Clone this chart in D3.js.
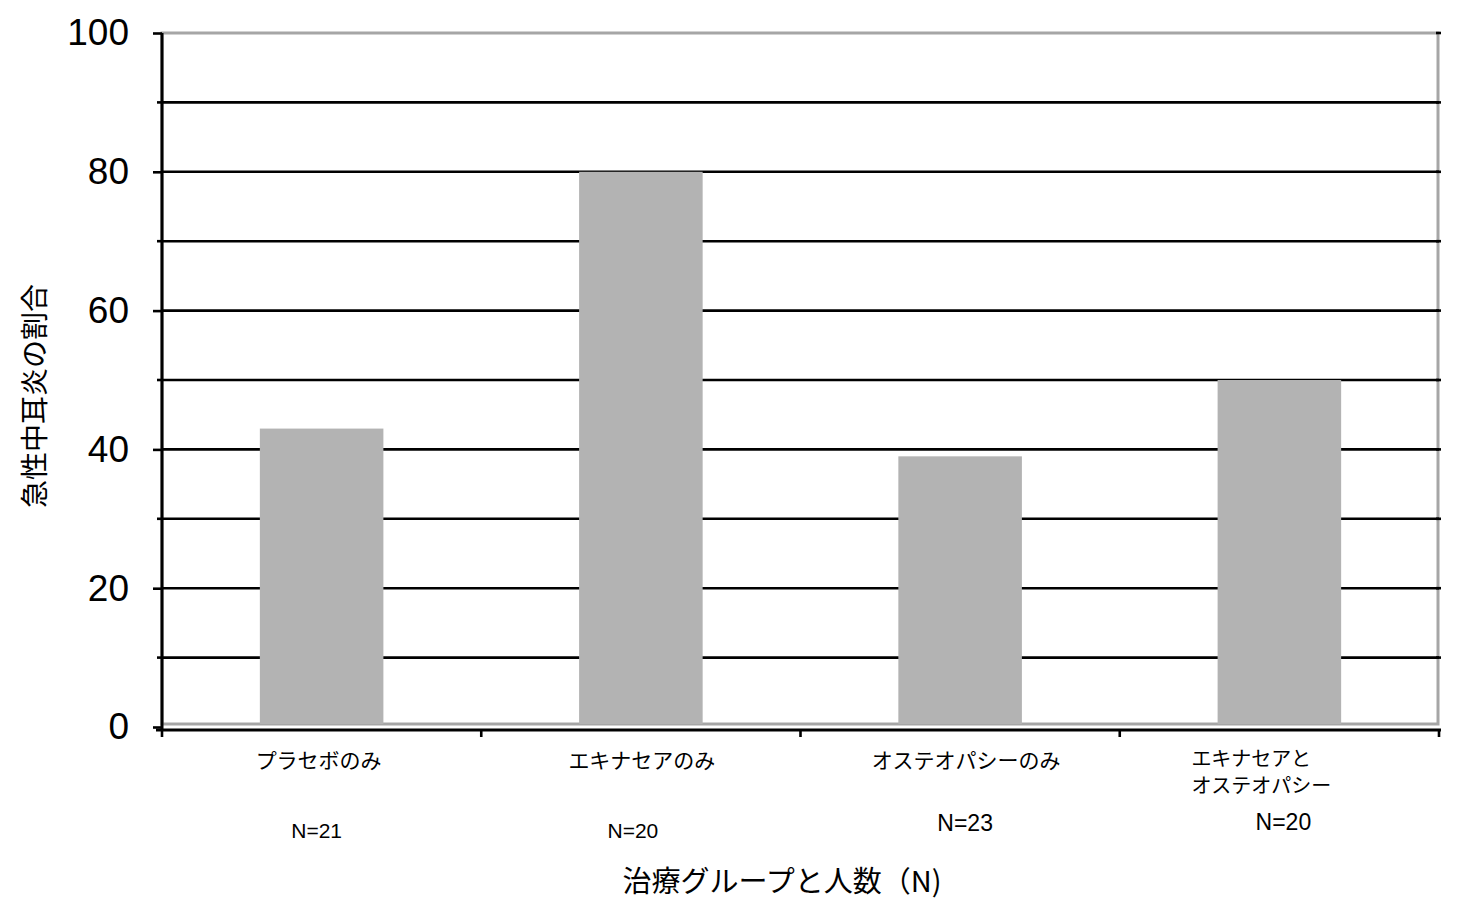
<!DOCTYPE html>
<html><head><meta charset="utf-8">
<script src="https://cdn.jsdelivr.net/npm/d3@7"></script>
<style>body{margin:0;background:#fff}svg{display:block}</style>
</head><body><svg id="c" width="1472" height="902"></svg>
<script>
const categories = ["プラセボのみ","エキナセアのみ","オステオパシーのみ","エキナセアと\nオステオパシー"];
const values = [43, 80, 39, 50];
const nLabels = ["N=21","N=20","N=23","N=20"];
const yTicks = [0,20,40,60,80,100];
const gridValues = [10,20,30,40,50,60,70,80,90];

const svg = d3.select("#c");
const L=162, R=1439, T=33, B=727;
const jp = "'Noto Sans CJK JP','Noto Sans',sans-serif";
const x = d3.scaleBand().domain(categories).range([L,R]).paddingInner(0.613).paddingOuter(0.3065);
const xOuter = d3.scaleBand().domain(categories).range([L,R]);
const y = d3.scaleLinear().domain([0,100]).range([B,T]);

// plot border (gray)
svg.append("rect").attr("x",L).attr("y",T).attr("width",R-L-1).attr("height",B-T-3)
  .attr("fill","none").attr("stroke","#a6a6a6").attr("stroke-width",3);

// gridlines
svg.append("g").selectAll("line").data(gridValues).join("line")
  .attr("x1",L).attr("x2",R).attr("y1",d=>y(d)).attr("y2",d=>y(d))
  .attr("stroke","#000").attr("stroke-width",2.6);
// right ticks
svg.append("g").selectAll("line").data(gridValues.concat([100])).join("line")
  .attr("x1",R-3).attr("x2",R+2).attr("y1",d=>y(d)).attr("y2",d=>y(d))
  .attr("stroke","#000").attr("stroke-width",2.6);

// bars
svg.append("g").selectAll("rect").data(values).join("rect")
  .attr("x",(d,i)=>x(categories[i])).attr("width",x.bandwidth())
  .attr("y",d=>y(d)).attr("height",d=>B-3-y(d)).attr("fill","#b3b3b3");

// left axis
const ya = d3.axisLeft(y).tickValues(yTicks).tickSize(9).tickFormat(d3.format("d"));
const gy = svg.append("g").attr("transform",`translate(${L},0)`).call(ya);
gy.select(".domain").attr("stroke","#000").attr("stroke-width",3).attr("d",`M0,${T}V${B+3}`);
gy.selectAll(".tick line").attr("stroke","#000").attr("stroke-width",2.6);
gy.selectAll(".tick text").attr("font-family","Arial,'Liberation Sans',sans-serif").attr("font-size",37).attr("fill","#000").attr("x",-33);
// minor ticks
svg.append("g").selectAll("line").data(gridValues.filter(d=>d%20)).join("line")
  .attr("x1",L-5).attr("x2",L).attr("y1",d=>y(d)).attr("y2",d=>y(d)).attr("stroke","#000").attr("stroke-width",2.6);

// bottom axis
const gx = svg.append("g").attr("transform",`translate(0,${B+3})`);
gx.append("line").attr("x1",L-6).attr("x2",R+2).attr("stroke","#000").attr("stroke-width",3);
const bounds = categories.map(c=>xOuter(c)).concat([R]);
gx.selectAll("line.t").data(bounds).join("line").attr("class","t")
  .attr("x1",d=>d).attr("x2",d=>d).attr("y1",0).attr("y2",7).attr("stroke","#000").attr("stroke-width",2.6);

// category labels
const labOff = [-3, 1, 6, -41];
categories.forEach((c,i)=>{
  const lines = c.split("\n");
  lines.forEach((ln,j)=>{
    svg.append("text").attr("font-family",jp).attr("font-size",lines.length>1?20:21).attr("fill","#000")
      .attr("text-anchor", lines.length>1?"start":"middle")
      .attr("x", x(c)+x.bandwidth()/2+labOff[i] + (lines.length>1?-47:0))
      .attr("y", (lines.length>1?766:768)+j*27).text(ln);
  });
});
// N labels
const nPos = [[-5,838,21],[-8,838,21],[5,831,23],[4,830,23]];
nLabels.forEach((n,i)=>{
  svg.append("text").attr("x",x(categories[i])+x.bandwidth()/2+nPos[i][0]).attr("y",nPos[i][1])
    .attr("text-anchor","middle").attr("font-family","Arial,'Liberation Sans',sans-serif")
    .attr("font-size",nPos[i][2]).attr("fill","#000").text(n);
});

// axis titles
svg.append("text").attr("x",782).attr("y",892).attr("text-anchor","middle")
  .attr("font-family",jp).attr("font-size",29).attr("fill","#000").text("治療グループと人数（N)");
svg.append("text").attr("transform","translate(45,396) rotate(-90)").attr("text-anchor","middle")
  .attr("font-family",jp).attr("font-size",28).attr("fill","#000").text("急性中耳炎の割合");
</script></body></html>
